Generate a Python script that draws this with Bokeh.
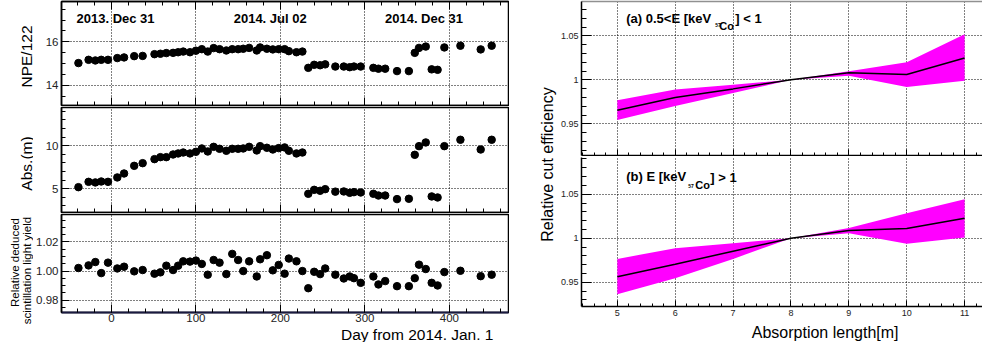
import math
from bokeh.plotting import figure
from bokeh.models import (Range1d, SingleIntervalTicker, LinearAxis, Label,
                          PrintfTickFormatter, NumeralTickFormatter, ColumnDataSource)
from bokeh.layouts import row, column
from bokeh.embed import file_html
from bokeh.resources import INLINE

# ---------------- data ----------------
days = [-39, -27, -19, -12, -4, 7, 15, 27, 37, 51, 58, 65, 73, 79, 85, 93, 100,
        107, 114, 121, 128, 136, 143, 150, 156, 163, 172, 176, 184, 191, 198, 205,
        210, 219, 226, 233, 240, 247, 253, 265, 275, 282, 287, 295, 310, 316, 324,
        338, 352, 359, 364, 372, 379, 386, 394, 413, 437, 450]
npe = [15.02, 15.17, 15.14, 15.17, 15.17, 15.25, 15.28, 15.34, 15.35, 15.43, 15.45,
       15.48, 15.49, 15.52, 15.55, 15.52, 15.59, 15.66, 15.55, 15.71, 15.66, 15.60,
       15.66, 15.66, 15.68, 15.72, 15.60, 15.74, 15.68, 15.65, 15.66, 15.66, 15.57,
       15.52, 15.55, 14.80, 14.94, 14.92, 14.96, 14.86, 14.86, 14.83, 14.86, 14.86,
       14.80, 14.76, 14.76, 14.65, 14.65, 15.49, 15.72, 15.78, 14.73, 14.71, 15.74,
       15.82, 15.65, 15.82]
absl = [5.19, 5.81, 5.74, 5.85, 5.81, 6.32, 6.78, 7.67, 7.98, 8.45, 8.68, 8.68, 8.99,
        9.11, 9.22, 9.11, 9.30, 9.69, 9.34, 9.88, 9.65, 9.42, 9.65, 9.65, 9.69, 9.88,
        9.46, 9.96, 9.77, 9.57, 9.73, 9.81, 9.42, 9.11, 9.22, 4.42, 4.88, 4.77, 4.96,
        4.67, 4.69, 4.53, 4.61, 4.57, 4.42, 4.22, 4.22, 3.80, 3.84, 8.95, 9.96, 10.39,
        4.11, 3.99, 9.96, 10.70, 9.57, 10.70]
light_yield = [1.0021, 1.0039, 1.0062, 0.9986, 1.0058, 1.0018, 1.0030, 0.9998, 1.0007,
               0.9982, 0.9991, 1.0037, 1.0007, 1.0037, 1.0067, 1.0065, 1.0072, 1.0049,
               0.9975, 1.0076, 1.0058, 0.9979, 1.0118, 1.0076, 1.0000, 1.0067, 0.9963,
               1.0081, 1.0109, 1.0005, 1.0042, 0.9982, 1.0086, 1.0067, 1.0000, 0.9882,
               0.9995, 0.9979, 1.0018, 0.9975, 0.9949, 0.9963, 0.9951, 0.9919, 0.9963,
               0.9908, 0.9931, 0.9896, 0.9896, 0.9951, 1.0044, 1.0014, 0.9919, 0.9901,
               0.9993, 1.0002, 0.9965, 0.9975]
date_label_days = [-1, 182, 364]
date_labels = ["2013. Dec 31", "2014. Jul 02", "2014. Dec 31"]

abs_length = [5, 6, 7, 8, 9, 10, 11]
a_center = [0.9653, 0.9798, 0.9897, 1.0, 1.0079, 1.0060, 1.0248]
a_upper = [0.9767, 0.9889, 0.9945, 1.0, 1.0098, 1.0199, 1.0519]
a_lower = [0.9542, 0.9702, 0.9851, 1.0, 1.0045, 0.9917, 0.9989]
b_center = [0.9561, 0.9705, 0.9852, 1.0, 1.0087, 1.0110, 1.0227]
b_upper = [0.9765, 0.9886, 0.9944, 1.0, 1.0117, 1.0284, 1.0443]
b_lower = [0.9364, 0.9545, 0.9765, 1.0, 1.0057, 0.9936, 1.0008]

FONT = "Liberation Sans"

# frame geometry (picture pixels) and ranges
L_X = (60, 508, -59.03, 469.9)
P1_Y = (1, 105, 13.065, 17.857)
P2_Y = (107, 212, 2.244, 14.453)
P3_Y = (214, 312, 0.9715, 1.0389)
R_X = (579, 982, 4.381, 11.309)
Q1_Y = (1, 155, 0.914, 1.089)
Q2_Y = (157, 306, 0.9224, 1.0917)


def sx(px, g):
    l, r, x0, x1 = g
    return x0 + (px - l) / (r - l) * (x1 - x0)


def sy(py, g):
    t, b, y0, y1 = g
    return y1 - (py - t) / (b - t) * (y1 - y0)


def style_axis(ax, size, standoff, major_in=8, minor_in=4, lw=1.5, labels=True):
    ax.major_tick_in = major_in
    ax.major_tick_out = 0
    ax.minor_tick_in = minor_in
    ax.minor_tick_out = 0
    ax.axis_line_width = lw
    ax.axis_line_color = "black"
    ax.major_tick_line_color = "black"
    ax.minor_tick_line_color = "black"
    ax.major_tick_line_width = 1
    ax.major_label_text_font = FONT
    ax.major_label_text_font_size = size
    ax.major_label_text_color = "#222222" if labels else None
    ax.major_label_standoff = standoff


def style_grid(p):
    p.grid.grid_line_color = "black"
    p.grid.grid_line_dash = "1 2"
    p.grid.grid_line_width = 1
    p.grid.grid_line_alpha = 1.0


def strip(w, h, xr, yr):
    s = figure(width=w, height=h, output_backend="svg", toolbar_location=None,
               x_range=Range1d(*xr), y_range=Range1d(*yr),
               x_axis_location=None, y_axis_location=None,
               min_border_left=0, min_border_right=0, min_border_top=0, min_border_bottom=0)
    s.outline_line_color = None
    s.grid.visible = False
    return s


def text_label(fig, x, y, text, size, angle=0.0, align="center", baseline="middle",
               bold=False, dx=0):
    fig.add_layout(Label(x=x, y=y, x_offset=dx, text=text, angle=angle, text_font=FONT,
                         text_font_size=size, text_align=align, text_baseline=baseline,
                         text_font_style="bold" if bold else "normal", text_color="black"))


src = ColumnDataSource(dict(day=days, npe=npe, absl=absl, ly=light_yield))


def left_panel(yg, height, top, bottom, yticker, show_x_labels, top_axis=False, yfmt=None):
    p = figure(width=476, height=height, output_backend="svg", toolbar_location=None,
               x_range=Range1d(L_X[2], L_X[3]), y_range=Range1d(yg[2], yg[3]),
               min_border_left=27, min_border_right=1,
               min_border_top=top, min_border_bottom=bottom)
    p.outline_line_color = "black"
    p.outline_line_width = 1.5
    p.xaxis.ticker = SingleIntervalTicker(interval=100, num_minor_ticks=5)
    p.yaxis.ticker = yticker
    style_axis(p.yaxis[0], "11.5px", 3)
    if show_x_labels:
        style_axis(p.xaxis[0], "11.5px", 1, lw=2)
        p.xaxis.axis_line_color = "#1a1a40"
    else:
        style_axis(p.xaxis[0], "11px", 0, labels=False)
    if yfmt is not None:
        p.yaxis.formatter = yfmt
    if top_axis:
        ax = LinearAxis(ticker=SingleIntervalTicker(interval=100, num_minor_ticks=5))
        style_axis(ax, "11px", 0, labels=False)
        p.add_layout(ax, "above")
    style_grid(p)
    return p


p1 = left_panel(P1_Y, 106, 1, 1, SingleIntervalTicker(interval=2, num_minor_ticks=4), False, top_axis=True)
p1.scatter("day", "npe", source=src, size=7.5, color="black")
for d, t in zip(date_label_days, date_labels):
    text_label(p1, d, sy(18, P1_Y), t, "13px", bold=True, dx=5)

p2 = left_panel(P2_Y, 107, 1, 1, SingleIntervalTicker(interval=5, num_minor_ticks=5), False)
p2.scatter("day", "absl", source=src, size=7.5, color="black")

p3 = left_panel(P3_Y, 113, 1, 14, SingleIntervalTicker(interval=0.02, num_minor_ticks=4), True,
                yfmt=PrintfTickFormatter(format="%.2f"))
p3.scatter("day", "ly", source=src, size=7.5, color="black")

# left y-title strip (coordinates = picture pixels)
ys = strip(33, 342, (0, 33), (342, 0))
text_label(ys, 25.5, 56, "NPE/122", "15.5px", angle=math.pi / 2)
text_label(ys, 25.5, 163, "Abs.(m)", "15.5px", angle=math.pi / 2)
text_label(ys, 14.5, 262, "Relative deduced", "11.5px", angle=math.pi / 2)
text_label(ys, 26.5, 270, "scintillation light yield", "11.5px", angle=math.pi / 2)

# left x-title strip
xs_l = strip(476, 16, (33, 509), (342, 326))
text_label(xs_l, 493, 333.5, "Day from 2014. Jan. 1", "15.5px", align="right")

# middle strip with right y title
ts = strip(48, 342, (509, 557), (342, 0))
text_label(ts, 547, 164, "Relative cut efficiency", "16px", angle=math.pi / 2)


def right_panel(yg, height, top, bottom, lower, upper, center, show_x_labels, top_line=False):
    q = figure(width=425, height=height, output_backend="svg", toolbar_location=None,
               x_range=Range1d(R_X[2], R_X[3]), y_range=Range1d(yg[2], yg[3]),
               min_border_left=22, min_border_right=0,
               min_border_top=top, min_border_bottom=bottom)
    q.outline_line_color = None
    q.xaxis.ticker = SingleIntervalTicker(interval=1, num_minor_ticks=5)
    q.yaxis.ticker = SingleIntervalTicker(interval=0.05, num_minor_ticks=5)
    q.yaxis.formatter = NumeralTickFormatter(format="0.[00]")
    style_axis(q.yaxis[0], "9px", 3, major_in=10, minor_in=5)
    if show_x_labels:
        style_axis(q.xaxis[0], "9px", 3, major_in=6, minor_in=3)
    else:
        style_axis(q.xaxis[0], "9px", 0, major_in=6, minor_in=3, labels=False)
    if top_line:
        ax = LinearAxis(ticker=SingleIntervalTicker(interval=1, num_minor_ticks=5))
        style_axis(ax, "9px", 0, major_in=0, minor_in=0, lw=1.5, labels=False)
        ax.axis_line_color = "#909090"
        p_ax = ax
        q.add_layout(p_ax, "above")
    style_grid(q)
    q.varea(x=abs_length, y1=lower, y2=upper, fill_color="#ff00ff", fill_alpha=1.0)
    q.line(abs_length, center, line_color="black", line_width=1.5)
    return q


q1 = right_panel(Q1_Y, 156, 1, 1, a_lower, a_upper, a_center, False, top_line=True)
q2 = right_panel(Q2_Y, 164, 1, 14, b_lower, b_upper, b_center, True)


def sub_label(q, yg, x_start, parts):
    for text, dx, mid_y, size in parts:
        text_label(q, sx(x_start, R_X), sy(mid_y, yg), text, size, align="left",
                   baseline="middle", bold=True, dx=dx)


sub_label(q1, Q1_Y, 624, [("(a) 0.5<E [keV", 0, 18, "13px"), ("57", 89, 24.3, "5px"),
                          ("Co", 93, 25, "11px"), ("] < 1", 109, 18, "13px")])
sub_label(q2, Q2_Y, 624, [("(b) E [keV", 0, 176.2, "13px"), ("57", 62, 185, "5px"),
                          ("Co", 69, 184.7, "11px"), ("] > 1", 84, 176.5, "13px")])

# right x-title strip
xs_r = strip(425, 22, (557, 982), (342, 320))
text_label(xs_r, 893, 332, "Absorption length[m]", "16px", align="right")

layout = row(ys, column(p1, p2, p3, xs_l), ts, column(q1, q2, xs_r))

open("out.html", "w").write(file_html(layout, INLINE))
